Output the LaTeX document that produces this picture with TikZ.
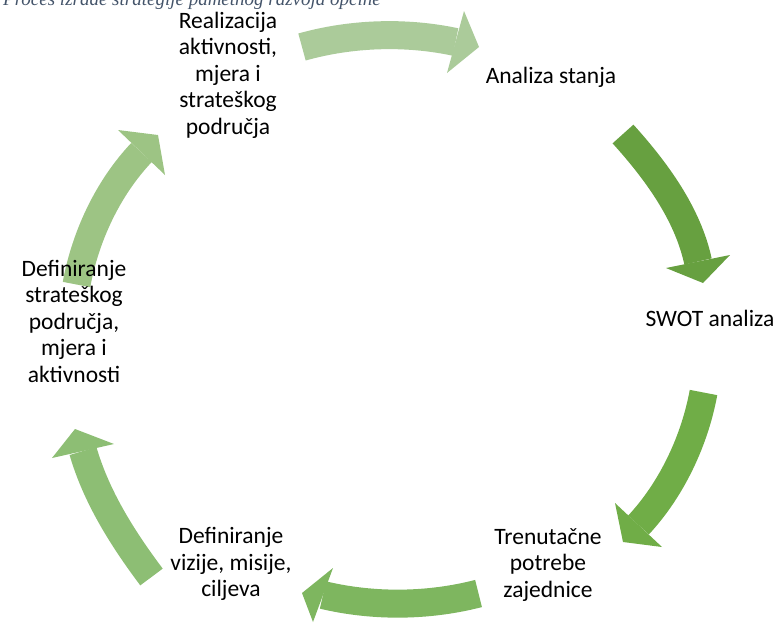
\documentclass[tikz,border=0pt]{standalone}
\usepackage{fontspec}
\setmainfont{Carlito}
\newfontfamily\capfont{Liberation Serif}
\definecolor{cA}{RGB}{171,203,154}
\definecolor{cB}{RGB}{103,160,64}
\definecolor{cC}{RGB}{112,173,71}
\definecolor{cD}{RGB}{126,182,95}
\definecolor{cE}{RGB}{141,190,116}
\definecolor{cF}{RGB}{157,196,132}
\definecolor{capcol}{RGB}{68,84,106}
\begin{document}
\begin{tikzpicture}[x=1pt,y=-1pt,
  lbl/.style={font=\fontsize{23.5}{26.5}\selectfont, align=center, inner sep=0pt, text=black},
  body/.style={line width=28pt}]
\useasboundingbox (0,0) rectangle (782,622);
% clipped caption (only its lower part is visible)
\begin{scope}
\clip (0,0) rectangle (782,12);
\node[anchor=base west, inner sep=0pt, text=capcol, font=\capfont\itshape\fontsize{19}{19}\selectfont] (cap) at (3,5) {Proces izrade strategije pametnog razvoja općine};
\end{scope}
% arrow 1 (top)
\coordinate (a1t) at (302,47);
\coordinate (a1h) at (455.5,42);
\draw[body, cA] (a1t) .. controls (351,33.2) and (405.5,31.3) .. (a1h);
\fill[cA] (464,11) -- (479,47) -- (447,73) -- cycle;
% arrow 2 (top right)
\coordinate (a2t) at (623,134);
\coordinate (a2h) at (698,261.5);
\draw[body, cB] (a2t) .. controls (655.8,170.3) and (687.7,213.5) .. (a2h);
\fill[cB] (666,268) -- (703,283) -- (730,255) -- cycle;
% arrow 3 (bottom right)
\coordinate (a3t) at (703.5,392.5);
\coordinate (a3h) at (638.5,525);
\draw[body, cC] (a3t) .. controls (694.7,440.5) and (671.8,489.2) .. (a3h);
\fill[cC] (615,503) -- (623,542) -- (662,547) -- cycle;
% arrow 4 (bottom)
\coordinate (a4t) at (478.5,593.5);
\coordinate (a4h) at (323,595);
\draw[body, cD] (a4t) .. controls (428.2,606.5) and (373.4,607) .. (a4h);
\fill[cD] (333,568) -- (302,593) -- (313,622) -- cycle;
% arrow 5 (bottom left)
\coordinate (a5t) at (151.5,577);
\coordinate (a5h) at (83,451);
\draw[body, cE] (a5t) .. controls (122.7,538.6) and (96.4,497.1) .. (a5h);
\fill[cE] (52,458) -- (75,429) -- (114,444) -- cycle;
% arrow 6 (top left)
\coordinate (a6t) at (76.5,284.5);
\coordinate (a6h) at (141.5,152.5);
\draw[body, cF] (a6t) .. controls (85.3,236.5) and (107.7,188.3) .. (a6h);
\fill[cF] (118,130) -- (158,135) -- (165,175) -- cycle;
% labels (drawn over the arrows)
\node[lbl] (real) at (228,75) {Realizacija\\aktivnosti,\\mjera i\\strateškog\\područja};
\node[lbl] (analiza) at (551,77) {Analiza stanja};
\node[lbl] (swot) at (710,318) {SWOT analiza};
\node[lbl] (tren) at (548,565) {Trenutačne\\potrebe\\zajednice};
\node[lbl] (viz) at (231,564) {Definiranje\\vizije, misije,\\ciljeva};
\node[lbl] (def) at (74,321) {Definiranje\\strateškog\\područja,\\mjera i\\aktivnosti};
\end{tikzpicture}
\end{document}
